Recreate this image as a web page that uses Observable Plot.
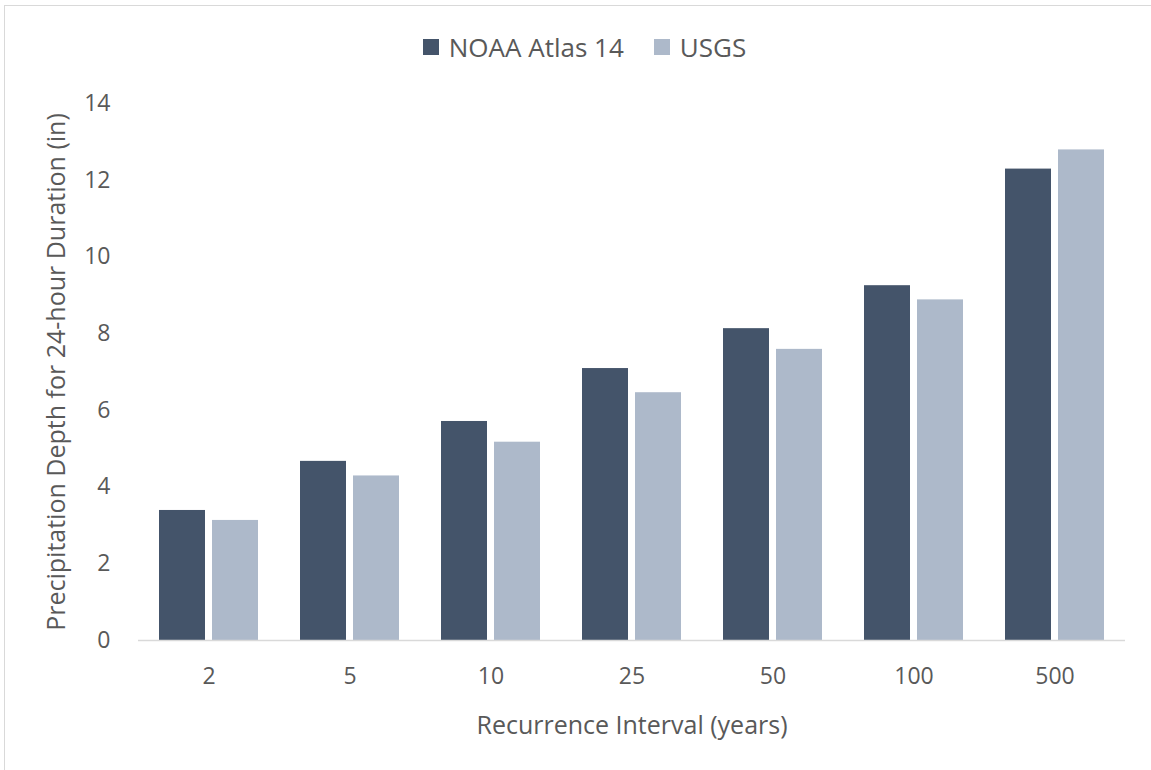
<!DOCTYPE html>
<html><head><meta charset="utf-8">
<script src="https://cdn.jsdelivr.net/npm/d3@7"></script>
<script src="https://cdn.jsdelivr.net/npm/@observablehq/plot@0.6"></script>
<style>
body{margin:0;background:#fff;font-family:"Open Sans",sans-serif;}
#wrap{position:relative;width:1151px;height:770px;overflow:hidden;}
#frame{position:absolute;left:4px;top:5px;right:-3px;bottom:-3px;border:1px solid #d9d9d9;pointer-events:none;}
#legend{box-sizing:border-box;height:80px;padding-top:14px;padding-left:18px;display:flex;justify-content:center;align-items:center;gap:30px;color:#595959;font-size:26px;}
.item{display:flex;align-items:center;gap:10px;}
.sw{width:16px;height:16px;display:inline-block;}
svg{display:block;}
</style>
</head><body>
<div id="wrap"><div id="frame"></div><div id="legend"></div><div id="chart"></div></div>
<script>
const categories = ["2","5","10","25","50","100","500"];
const series = ["NOAA Atlas 14","USGS"];
const noaa = [3.39,4.67,5.71,7.09,8.13,9.25,12.29];
const usgs = [3.13,4.29,5.17,6.46,7.59,8.88,12.79];
const yTicks = [0,2,4,6,8,10,12,14];
const colors = ["#44546A","#ADB9CA"];

const data = categories.flatMap((c,i)=>[
  {interval:c, source:series[0], depth:noaa[i]},
  {interval:c, source:series[1], depth:usgs[i]}
]);

const legend = document.getElementById("legend");
series.forEach((s,i)=>{
  const it = document.createElement("div"); it.className="item";
  const sw = document.createElement("span"); sw.className="sw"; sw.style.background=colors[i];
  const tx = document.createElement("span"); tx.textContent=s;
  it.append(sw,tx); legend.append(it);
});

const chart = Plot.plot({
  width:1151, height:690, marginTop:23, marginBottom:130, marginLeft:136, marginRight:25,
  style:{fontFamily:"'Open Sans', sans-serif", fontSize:"23px", color:"#595959", background:"transparent", overflow:"visible"},
  fx:{domain:categories, padding:0, label:null},
  x:{domain:series, paddingInner:0.14, paddingOuter:0.4, axis:null},
  y:{domain:[0,14]},
  color:{domain:series, range:colors},
  marks:[
    Plot.barY(data,{fx:"interval", x:"source", y:"depth", fill:"source"}),
    Plot.ruleY([0],{stroke:"#d9d9d9", strokeWidth:1.3}),
    Plot.axisY({ticks:yTicks, tickSize:0, tickPadding:28, fill:"#595959", fontSize:23, label:null}),
    Plot.axisY({ticks:[], tickSize:0, fill:"#595959", fontSize:25,
      label:"Precipitation Depth for 24-hour Duration (in)", labelAnchor:"center", labelArrow:"none", labelOffset:91}),
    Plot.axisFx({anchor:"bottom", tickSize:0, tickPadding:27, fill:"#595959", fontSize:23, label:null}),
    Plot.axisFx({anchor:"bottom", ticks:[], tickSize:0, fill:"#595959", fontSize:25,
      label:"Recurrence Interval (years)", labelAnchor:"center", labelArrow:"none", labelOffset:93})
  ]
});
document.getElementById("chart").append(chart);
</script>
</body></html>
